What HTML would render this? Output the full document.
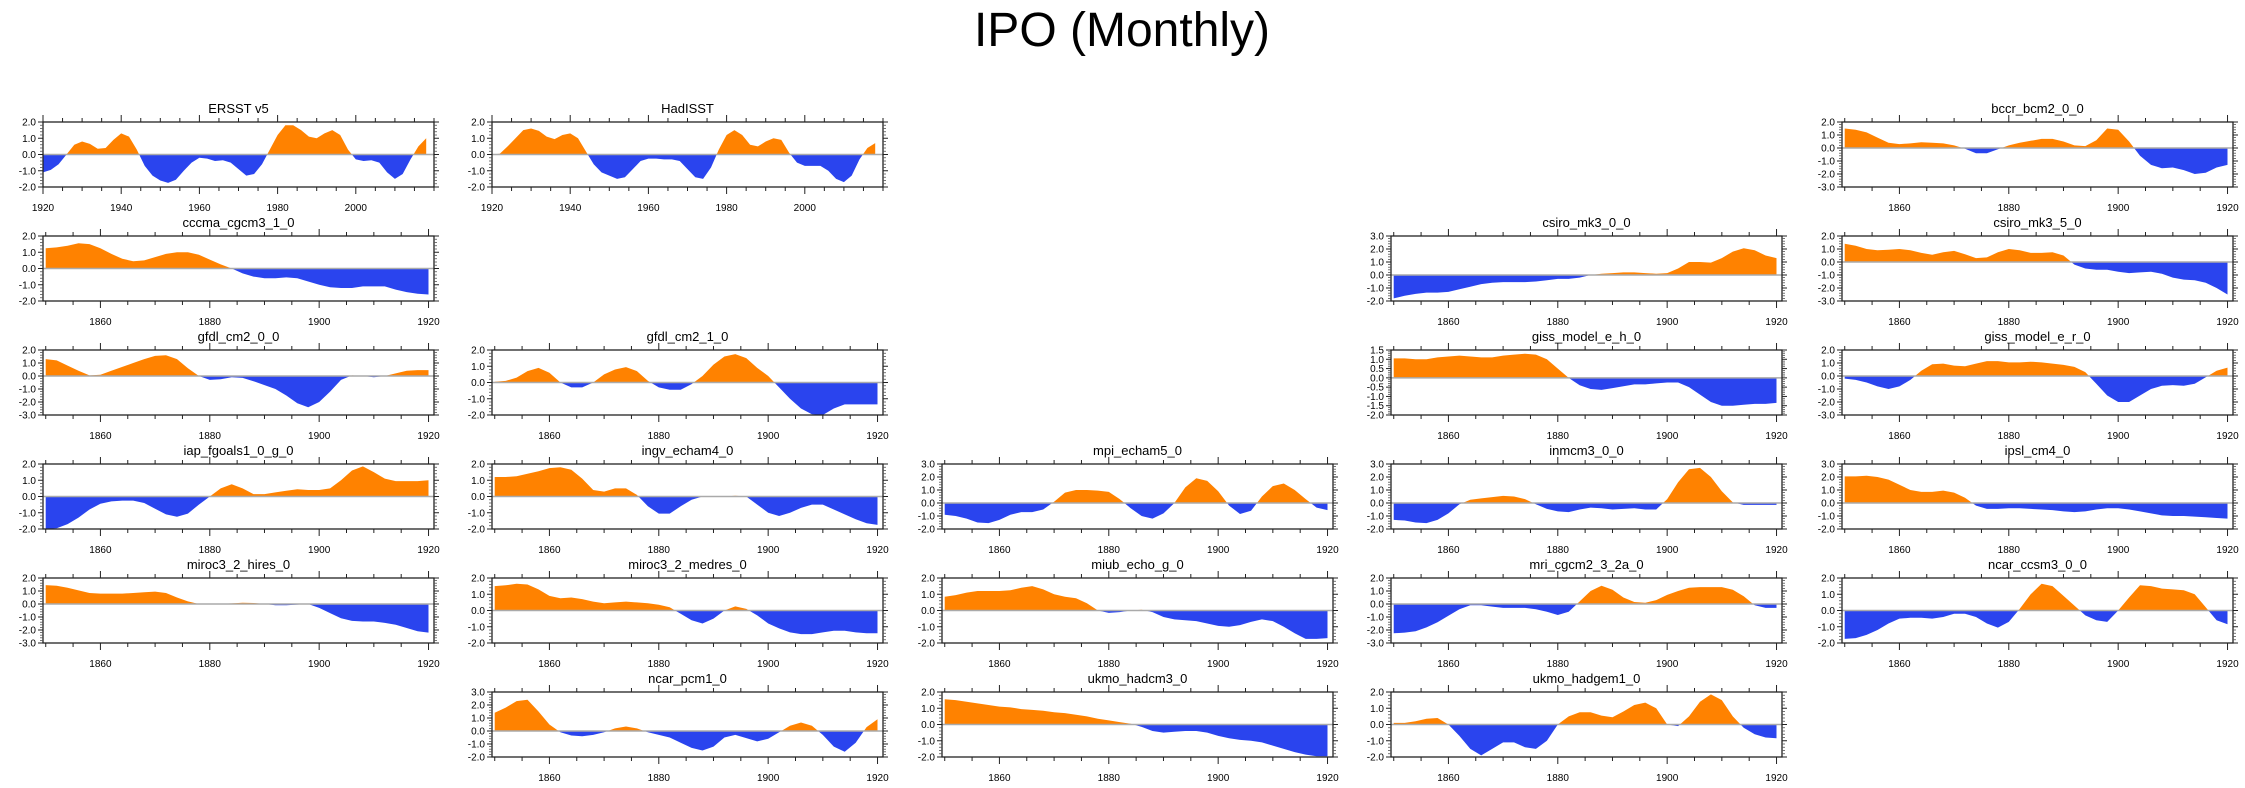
<!DOCTYPE html>
<html><head><meta charset="utf-8"><style>
html,body{margin:0;padding:0;background:#fff;}
svg{display:block;font-family:"Liberation Sans",sans-serif;}
</style></head><body>
<svg id="fig" width="2245" height="788" viewBox="0 0 2245 788">
<text x="1122" y="46" text-anchor="middle" font-size="48" fill="#000">IPO (Monthly)</text>
</svg>
<script>
// ---- data (values every 2 years) ----
const obsYearStart = 1920;
const modelYearStart = 1850;
const yearStep = 2;
const ersst = [-1.1,-0.95,-0.6,0.0,0.6,0.8,0.65,0.35,0.4,0.9,1.3,1.1,0.3,-0.7,-1.3,-1.6,-1.75,-1.55,-1.0,-0.5,-0.2,-0.25,-0.4,-0.35,-0.5,-0.9,-1.3,-1.2,-0.6,0.3,1.2,1.8,1.8,1.5,1.1,1.0,1.3,1.5,1.2,0.3,-0.3,-0.4,-0.35,-0.5,-1.1,-1.5,-1.2,-0.3,0.5,1.0];
const hadisst = [0.0,0.05,0.5,1.0,1.5,1.6,1.45,1.1,0.95,1.2,1.3,1.0,0.2,-0.6,-1.1,-1.3,-1.5,-1.4,-0.9,-0.4,-0.25,-0.25,-0.3,-0.3,-0.4,-0.9,-1.4,-1.5,-0.8,0.3,1.2,1.5,1.2,0.6,0.5,0.8,1.0,0.9,0.1,-0.5,-0.7,-0.7,-0.7,-1.0,-1.5,-1.7,-1.3,-0.3,0.4,0.7];
const bccr = [1.5,1.4,1.2,0.8,0.4,0.3,0.35,0.45,0.4,0.35,0.2,-0.05,-0.4,-0.4,-0.1,0.2,0.4,0.55,0.7,0.7,0.5,0.2,0.15,0.6,1.5,1.4,0.5,-0.6,-1.3,-1.55,-1.5,-1.7,-2.0,-1.9,-1.5,-1.3];
const cccma = [1.25,1.3,1.4,1.55,1.5,1.25,0.9,0.6,0.45,0.5,0.7,0.9,1.0,1.0,0.85,0.55,0.25,0.0,-0.3,-0.5,-0.6,-0.6,-0.55,-0.6,-0.8,-1.0,-1.15,-1.2,-1.2,-1.1,-1.1,-1.1,-1.3,-1.45,-1.55,-1.6];
const csiroMk30 = [-1.8,-1.6,-1.45,-1.35,-1.35,-1.3,-1.1,-0.9,-0.7,-0.6,-0.55,-0.55,-0.55,-0.5,-0.4,-0.3,-0.3,-0.2,0.0,0.1,0.15,0.2,0.2,0.15,0.1,0.15,0.5,1.0,1.0,0.95,1.3,1.8,2.05,1.9,1.5,1.3];
const csiroMk35 = [1.4,1.25,1.0,0.9,0.95,1.0,0.9,0.7,0.55,0.75,0.85,0.6,0.3,0.35,0.75,1.0,0.9,0.7,0.7,0.75,0.5,-0.2,-0.5,-0.6,-0.6,-0.75,-0.85,-0.8,-0.75,-0.9,-1.2,-1.35,-1.4,-1.6,-2.0,-2.5];
const gfdl20 = [1.3,1.2,0.8,0.4,0.05,0.1,0.4,0.7,1.0,1.3,1.55,1.6,1.3,0.6,0.0,-0.3,-0.25,-0.1,-0.15,-0.4,-0.7,-1.0,-1.5,-2.1,-2.4,-2.0,-1.2,-0.3,0.05,0.0,-0.1,0.0,0.2,0.4,0.45,0.45];
const gfdl21 = [0.05,0.1,0.3,0.7,0.9,0.6,0.0,-0.3,-0.3,0.0,0.5,0.8,0.95,0.7,0.1,-0.3,-0.45,-0.45,-0.1,0.4,1.1,1.6,1.75,1.5,0.9,0.4,-0.3,-1.0,-1.6,-1.95,-2.0,-1.6,-1.35,-1.35,-1.35,-1.35];
const gissH = [1.05,1.05,1.0,1.0,1.1,1.15,1.2,1.15,1.1,1.1,1.2,1.25,1.3,1.25,1.0,0.5,0.0,-0.4,-0.6,-0.65,-0.55,-0.45,-0.35,-0.35,-0.3,-0.25,-0.25,-0.5,-0.9,-1.3,-1.5,-1.5,-1.45,-1.4,-1.4,-1.35];
const gissR = [-0.2,-0.3,-0.5,-0.8,-1.0,-0.8,-0.3,0.4,0.9,0.95,0.8,0.75,0.95,1.15,1.15,1.05,1.05,1.1,1.05,0.95,0.85,0.7,0.3,-0.6,-1.5,-2.0,-2.0,-1.5,-1.0,-0.75,-0.7,-0.75,-0.6,-0.1,0.4,0.65];
const iap = [-2.0,-1.95,-1.7,-1.3,-0.8,-0.45,-0.3,-0.25,-0.25,-0.4,-0.75,-1.1,-1.25,-1.05,-0.5,0.0,0.5,0.75,0.5,0.15,0.15,0.25,0.35,0.45,0.4,0.4,0.5,1.0,1.6,1.85,1.5,1.1,0.95,0.95,0.95,1.0];
const ingv = [1.2,1.2,1.25,1.4,1.55,1.75,1.8,1.65,1.1,0.4,0.3,0.5,0.5,0.1,-0.6,-1.05,-1.05,-0.6,-0.2,0.0,0.0,0.0,0.05,0.0,-0.5,-1.0,-1.2,-1.0,-0.7,-0.5,-0.5,-0.8,-1.1,-1.4,-1.65,-1.75];
const mpi = [-0.9,-1.0,-1.2,-1.5,-1.55,-1.3,-0.9,-0.7,-0.7,-0.5,0.1,0.8,1.0,1.0,0.95,0.85,0.3,-0.4,-1.0,-1.2,-0.8,0.0,1.2,1.9,1.7,0.9,-0.2,-0.85,-0.6,0.5,1.3,1.5,1.0,0.3,-0.35,-0.55];
const inmcm = [-1.3,-1.35,-1.5,-1.55,-1.3,-0.8,-0.1,0.25,0.35,0.45,0.55,0.5,0.3,-0.1,-0.45,-0.65,-0.7,-0.5,-0.35,-0.4,-0.5,-0.45,-0.4,-0.5,-0.5,0.3,1.6,2.6,2.7,2.0,0.9,0.05,-0.15,-0.15,-0.15,-0.15];
const ipsl = [2.05,2.05,2.1,2.0,1.8,1.4,1.0,0.85,0.85,0.95,0.8,0.4,-0.2,-0.45,-0.45,-0.4,-0.4,-0.45,-0.5,-0.55,-0.65,-0.7,-0.65,-0.5,-0.4,-0.4,-0.5,-0.65,-0.8,-0.95,-1.0,-1.0,-1.05,-1.1,-1.15,-1.2];
const mirocHi = [1.45,1.4,1.25,1.05,0.85,0.8,0.8,0.8,0.85,0.9,0.95,0.85,0.5,0.2,0.0,0.0,0.02,0.05,0.1,0.08,0.0,-0.1,-0.1,-0.05,0.0,-0.3,-0.7,-1.1,-1.3,-1.35,-1.35,-1.45,-1.6,-1.85,-2.1,-2.2];
const mirocMed = [1.5,1.55,1.65,1.6,1.3,0.9,0.75,0.8,0.7,0.55,0.45,0.5,0.55,0.5,0.45,0.35,0.2,-0.2,-0.6,-0.8,-0.5,0.0,0.25,0.1,-0.3,-0.8,-1.1,-1.35,-1.45,-1.45,-1.35,-1.25,-1.25,-1.35,-1.4,-1.4];
const miub = [0.85,0.95,1.1,1.2,1.2,1.2,1.25,1.4,1.5,1.3,1.0,0.85,0.75,0.45,0.0,-0.15,-0.1,0.0,0.05,-0.1,-0.4,-0.55,-0.6,-0.65,-0.8,-0.95,-1.0,-0.9,-0.7,-0.55,-0.65,-1.0,-1.4,-1.75,-1.75,-1.7];
const mri = [-2.25,-2.2,-2.1,-1.8,-1.4,-0.9,-0.4,-0.1,-0.1,-0.2,-0.3,-0.3,-0.3,-0.4,-0.6,-0.85,-0.6,0.2,1.0,1.4,1.1,0.5,0.15,0.1,0.3,0.7,1.0,1.25,1.3,1.3,1.3,1.1,0.6,-0.1,-0.3,-0.3];
const ncarCcsm = [-1.75,-1.7,-1.5,-1.2,-0.8,-0.5,-0.45,-0.45,-0.5,-0.4,-0.2,-0.2,-0.4,-0.8,-1.05,-0.7,0.1,1.0,1.65,1.5,0.9,0.3,-0.3,-0.6,-0.7,0.0,0.8,1.55,1.5,1.35,1.3,1.25,1.0,0.2,-0.6,-0.85];
const ncarPcm = [1.4,1.8,2.3,2.4,1.5,0.5,-0.1,-0.35,-0.4,-0.3,-0.1,0.2,0.35,0.2,-0.1,-0.3,-0.5,-0.9,-1.3,-1.5,-1.2,-0.5,-0.3,-0.55,-0.8,-0.6,-0.1,0.4,0.65,0.4,-0.3,-1.2,-1.6,-0.9,0.3,0.9];
const hadcm3 = [1.55,1.5,1.4,1.3,1.2,1.1,1.05,0.95,0.9,0.85,0.75,0.7,0.6,0.5,0.35,0.25,0.15,0.05,-0.15,-0.4,-0.5,-0.45,-0.4,-0.4,-0.5,-0.7,-0.85,-0.95,-1.0,-1.1,-1.3,-1.5,-1.7,-1.85,-1.95,-1.95];
const hadgem1 = [0.1,0.1,0.2,0.35,0.4,0.0,-0.7,-1.5,-1.9,-1.5,-1.1,-1.1,-1.4,-1.5,-1.0,0.0,0.5,0.75,0.75,0.55,0.45,0.8,1.2,1.35,1.0,0.0,-0.1,0.5,1.4,1.85,1.5,0.5,-0.2,-0.6,-0.8,-0.85];
const obsXTicks = [1920,1940,1960,1980,2000];
const modelXTicks = [1860,1880,1900,1920];

// panel definitions: [title, series, row, col, yMin, yMax, yStep, observed?]
const panels = [
 ["ERSST v5", ersst, 0,0,-2,2,1,true],
 ["HadISST", hadisst, 0,1,-2,2,1,true],
 ["bccr_bcm2_0_0", bccr, 0,4,-3,2,1,false],
 ["cccma_cgcm3_1_0", cccma, 1,0,-2,2,1,false],
 ["csiro_mk3_0_0", csiroMk30, 1,3,-2,3,1,false],
 ["csiro_mk3_5_0", csiroMk35, 1,4,-3,2,1,false],
 ["gfdl_cm2_0_0", gfdl20, 2,0,-3,2,1,false],
 ["gfdl_cm2_1_0", gfdl21, 2,1,-2,2,1,false],
 ["giss_model_e_h_0", gissH, 2,3,-2,1.5,0.5,false],
 ["giss_model_e_r_0", gissR, 2,4,-3,2,1,false],
 ["iap_fgoals1_0_g_0", iap, 3,0,-2,2,1,false],
 ["ingv_echam4_0", ingv, 3,1,-2,2,1,false],
 ["mpi_echam5_0", mpi, 3,2,-2,3,1,false],
 ["inmcm3_0_0", inmcm, 3,3,-2,3,1,false],
 ["ipsl_cm4_0", ipsl, 3,4,-2,3,1,false],
 ["miroc3_2_hires_0", mirocHi, 4,0,-3,2,1,false],
 ["miroc3_2_medres_0", mirocMed, 4,1,-2,2,1,false],
 ["miub_echo_g_0", miub, 4,2,-2,2,1,false],
 ["mri_cgcm2_3_2a_0", mri, 4,3,-3,2,1,false],
 ["ncar_ccsm3_0_0", ncarCcsm, 4,4,-2,2,1,false],
 ["ncar_pcm1_0", ncarPcm, 5,1,-2,3,1,false],
 ["ukmo_hadcm3_0", hadcm3, 5,2,-2,2,1,false],
 ["ukmo_hadgem1_0", hadgem1, 5,3,-2,2,1,false]
];

const NS = "http://www.w3.org/2000/svg";
const svg = document.getElementById('fig');
const colLeft = [43, 492, 942, 1391, 1842];
const PW = 391, PH = 65, TOP0 = 122, ROWP = 114;
function mk(tag, attrs, parent){ const e=document.createElementNS(NS,tag); for(const k in attrs) e.setAttribute(k,attrs[k]); (parent||svg).appendChild(e); return e; }
function slug(s){return s.toLowerCase().replace(/[^a-z0-9]+/g,'-').replace(/-+$/,'');}

panels.forEach((p, pi) => {
  const [title, vals, row, col, yMin, yMax, yStep, obs] = p;
  const L = colLeft[col], T = TOP0 + row*ROWP, R = L+PW, B = T+PH;
  const x0 = obs ? 1920 : 1849.5, x1 = obs ? 2020 : 1921;
  const start = obs ? obsYearStart : modelYearStart;
  const xs = yr => L + (yr - x0)/(x1 - x0)*PW;
  const ys = v => T + (yMax - v)/(yMax - yMin)*PH;
  const g = mk('g', {});
  
  
  // clips
  const y0 = ys(0);
  const cpId = 'cp'+pi, cnId = 'cn'+pi;
  const defs = mk('defs', {}, g);
  const cp = mk('clipPath', {id:cpId}, defs); mk('rect',{x:L,y:T,width:PW,height:y0-T},cp);
  const cn = mk('clipPath', {id:cnId}, defs); mk('rect',{x:L,y:y0,width:PW,height:B-y0},cn);
  let d = 'M' + xs(start).toFixed(1) + ',' + y0.toFixed(1);
  vals.forEach((v,i) => { d += ' L' + xs(start + i*yearStep).toFixed(1) + ',' + ys(v).toFixed(1); });
  d += ' L' + xs(start + (vals.length-1)*yearStep).toFixed(1) + ',' + y0.toFixed(1) + ' Z';
  const pos = mk('path', {d:d, fill:'#ff8200', 'clip-path':'url(#'+cpId+')'}, g);
  
  
  const neg = mk('path', {d:d, fill:'#2a44ee', 'clip-path':'url(#'+cnId+')'}, g);
  
  
  const zl = mk('line', {x1:L, x2:R, y1:y0, y2:y0, stroke:'#aaaaaa', 'stroke-width':1.5}, g);
  
  
  const fr = mk('rect', {x:L, y:T, width:PW, height:PH, fill:'none', stroke:'#222', 'stroke-width':1.3}, g);
  
  
  // y ticks
  const nY = Math.round((yMax - yMin)/yStep);
  for (let k=0;k<=nY;k++){
    const v = yMin + k*yStep, yy = ys(v);
    mk('line',{x1:L-5,x2:L,y1:yy,y2:yy,stroke:'#222','stroke-width':1},g);
    mk('line',{x1:R,x2:R+5,y1:yy,y2:yy,stroke:'#222','stroke-width':1},g);
    const t = mk('text',{x:L-7,y:yy+3.5,'text-anchor':'end','font-size':10,fill:'#000'},g);
    t.textContent = v.toFixed(1);
    
    
    if (k<nY){ for(let m=1;m<5;m++){ const ym = ys(v + m*yStep/5);
      mk('line',{x1:L-3,x2:L,y1:ym,y2:ym,stroke:'#555','stroke-width':0.8},g);
      mk('line',{x1:R,x2:R+3,y1:ym,y2:ym,stroke:'#555','stroke-width':0.8},g);} }
  }
  // x ticks
  const majors = obs ? obsXTicks : modelXTicks;
  for (let yr = Math.ceil(x0/5)*5; yr <= x1; yr += 5){
    const xx = xs(yr), major = majors.indexOf(yr) >= 0;
    const len = major ? 7 : 4;
    mk('line',{x1:xx,x2:xx,y1:T-len,y2:T,stroke:'#222','stroke-width':1},g);
    mk('line',{x1:xx,x2:xx,y1:B,y2:B+len,stroke:'#222','stroke-width':1},g);
  }
  majors.forEach(yr => {
    const t = mk('text',{x:xs(yr),y:B+24,'text-anchor':'middle','font-size':10,fill:'#000'},g);
    t.textContent = String(yr);
    
    
  });
  const tt = mk('text',{x:L+PW/2,y:T-9,'text-anchor':'middle','font-size':13,fill:'#000'},g);
  tt.textContent = title;
  
  
});
</script>
</body></html>
